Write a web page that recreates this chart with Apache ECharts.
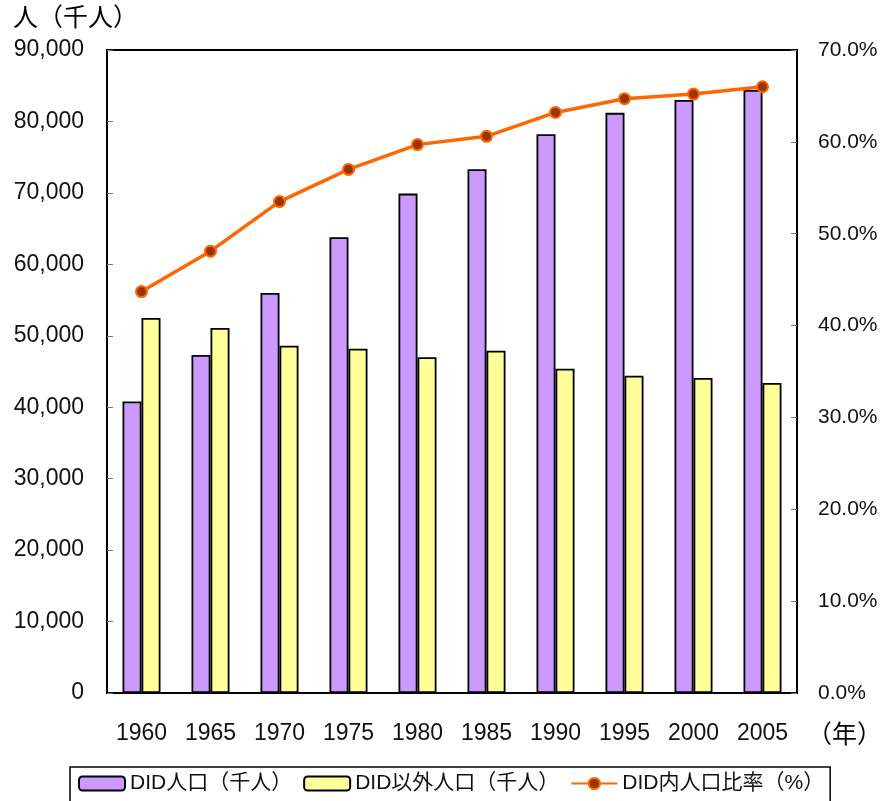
<!DOCTYPE html>
<html><head><meta charset="utf-8">
<script src="https://cdn.jsdelivr.net/npm/echarts@6/dist/echarts.min.js"></script>
<style>html,body{margin:0;padding:0;background:#fff}#c{width:881px;height:801px}</style>
</head><body><div id="c"></div>
<script>
const years = ['1960','1965','1970','1975','1980','1985','1990','1995','2000','2005'];
const didPop = [40800, 47300, 56000, 63800, 69900, 73300, 78200, 81200, 83000, 84400];
const nonDidPop = [52500, 51100, 48600, 48200, 47000, 47900, 45400, 44400, 44100, 43400];
const didRatio = [43.7, 48.1, 53.5, 57.0, 59.7, 60.6, 63.2, 64.7, 65.2, 66.0];
const seriesNames = ['DID人口（千人）', 'DID以外人口（千人）', 'DID内人口比率（%）'];

const jp = '"Liberation Sans", "Noto Sans CJK JP", sans-serif';
const chart = echarts.init(document.getElementById('c'), null, {renderer: 'canvas'});
chart.setOption({
  animation: false,
  backgroundColor: '#fff',
  title: [
    {text: '人（千人）', left: 8, top: 2, textStyle: {fontFamily: jp, fontSize: 25, fontWeight: 'normal', color: '#000'}},
    {text: '（年）', left: 802, top: 719, textStyle: {fontFamily: jp, fontSize: 25, fontWeight: 'normal', color: '#000'}}
  ],
  grid: {left: 107, right: 84, top: 50, bottom: 108, show: true, borderColor: '#000', borderWidth: 2, backgroundColor: 'transparent'},
  legend: {
    left: 70, top: 767, data: seriesNames,
    itemWidth: 46, itemHeight: 14, itemGap: 11,
    padding: [6, 6, 14, 8],
    borderColor: '#000', borderWidth: 1.5,
    textStyle: {fontFamily: jp, fontSize: 21, color: '#111'}
  },
  xAxis: {
    type: 'category', data: years,
    axisLine: {lineStyle: {color: '#000', width: 2}},
    axisTick: {inside: true, length: 9, lineStyle: {color: '#333'}},
    axisLabel: {margin: 29, fontFamily: jp, fontSize: 23, color: '#111'}
  },
  yAxis: [
    {
      type: 'value', min: 0, max: 90000, interval: 10000,
      axisLine: {show: true, lineStyle: {color: '#000', width: 2}},
      axisTick: {show: true, inside: true, length: 6, lineStyle: {color: '#777'}},
      splitLine: {show: false},
      axisLabel: {margin: 23, fontFamily: jp, fontSize: 23, color: '#111',
        formatter: v => v.toString().replace(/\B(?=(\d{3})+(?!\d))/g, ',')}
    },
    {
      type: 'value', min: 0, max: 70, interval: 10,
      axisLine: {show: true, lineStyle: {color: '#000', width: 2}},
      axisTick: {show: true, inside: true, length: 6, lineStyle: {color: '#777'}},
      splitLine: {show: false},
      axisLabel: {margin: 21, fontFamily: jp, fontSize: 21, color: '#111',
        formatter: v => v.toFixed(1) + '%'}
    }
  ],
  series: [
    {name: seriesNames[0], type: 'bar', data: didPop, barWidth: 19, barGap: '0%',
      itemStyle: {color: '#CC99FF', borderColor: '#000', borderWidth: 1.8}},
    {name: seriesNames[1], type: 'bar', data: nonDidPop, barWidth: 19,
      itemStyle: {color: '#FFFF99', borderColor: '#000', borderWidth: 1.8}},
    {name: seriesNames[2], type: 'line', yAxisIndex: 1, data: didRatio,
      symbol: 'circle', symbolSize: 11,
      lineStyle: {color: '#FF6600', width: 3.5},
      itemStyle: {color: '#993300', borderColor: '#FF6600', borderWidth: 2}}
  ]
});
</script></body></html>
